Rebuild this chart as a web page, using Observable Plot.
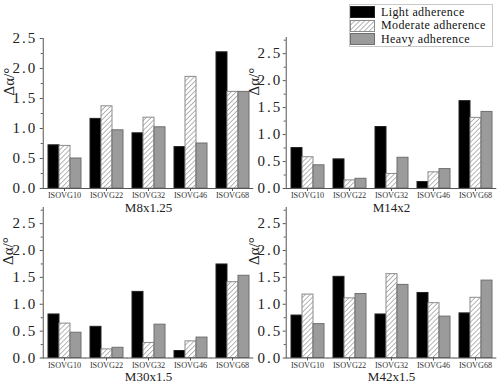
<!DOCTYPE html>
<html><head><meta charset="utf-8">
<script src="https://cdn.jsdelivr.net/npm/d3@7"></script>
<script src="https://cdn.jsdelivr.net/npm/@observablehq/plot@0.6"></script>
<style>
body{margin:0;background:#fff}
#chart{position:relative;width:500px;height:388px;overflow:hidden;font-family:"Liberation Serif","DejaVu Serif",serif;background:#fff}
.panel{position:absolute}
.legend{position:absolute;left:349px;top:4px;width:144px;height:43px;border:1px solid #c8c8c8;background:#fff;z-index:5;box-sizing:border-box;padding-top:0.5px}
.row{display:flex;align-items:center;height:13.5px;white-space:nowrap}
.row svg{margin-right:6px;flex:none}
.row span{font-family:"Liberation Serif","DejaVu Serif",serif;font-size:12px;color:#111;line-height:13px;white-space:nowrap;letter-spacing:0.4px}
#chart svg text{font-family:"Liberation Serif","DejaVu Serif",serif}
g[aria-label="y-axis tick label"] text{letter-spacing:2px}
</style>
</head><body>
<svg width="0" height="0" style="position:absolute">
<defs>
<pattern id="hatch" patternUnits="userSpaceOnUse" width="3.5" height="3.5" patternTransform="rotate(45)">
<rect width="3.5" height="3.5" fill="#fff"/>
<line x1="0" y1="0" x2="0" y2="3.5" stroke="#8c8c8c" stroke-width="1.3"/>
</pattern>
</defs>
</svg>
<div id="chart"></div>
<script>
const groups = ["ISOVG10", "ISOVG22", "ISOVG32", "ISOVG46", "ISOVG68"];
const series = ["Light adherence", "Moderate adherence", "Heavy adherence"];
const titles = ["M8x1.25", "M14x2", "M30x1.5", "M42x1.5"];
const yLabel = "Δα/°";

const lightM8 = [0.72, 1.16, 0.92, 0.69, 2.27];
const moderateM8 = [0.71, 1.37, 1.18, 1.86, 1.61];
const heavyM8 = [0.50, 0.97, 1.02, 0.75, 1.61];

const lightM14 = [0.75, 0.54, 1.14, 0.12, 1.62];
const moderateM14 = [0.58, 0.15, 0.27, 0.30, 1.31];
const heavyM14 = [0.43, 0.18, 0.57, 0.36, 1.42];

const lightM30 = [0.81, 0.58, 1.23, 0.13, 1.74];
const moderateM30 = [0.64, 0.16, 0.28, 0.31, 1.41];
const heavyM30 = [0.47, 0.19, 0.62, 0.38, 1.53];

const lightM42 = [0.79, 1.51, 0.81, 1.21, 0.83];
const moderateM42 = [1.18, 1.11, 1.56, 1.02, 1.12];
const heavyM42 = [0.63, 1.19, 1.36, 0.77, 1.44];

const fills = ["#000", "url(#hatch)", "#9b9b9b"];
const strokes = ["#222", "#8a8a8a", "#6e6e6e"];

const panels = [
  {title: titles[0], values: [lightM8, moderateM8, heavyM8], yMax: 2.5,
   left: 0, top: 0, width: 256, height: 220, ml: 41, mr: 2, mt: 38, mb: 32, tp: 3, lx: 29},
  {title: titles[1], values: [lightM14, moderateM14, heavyM14], yMax: 2.8,
   left: 250, top: 0, width: 250, height: 220, ml: 34, mr: 2, mt: 37, mb: 32, tp: 1, lx: 27},
  {title: titles[2], values: [lightM30, moderateM30, heavyM30], yMax: 2.8,
   left: 0, top: 170, width: 256, height: 218, ml: 41, mr: 2, mt: 37, mb: 30.5, tp: 3, lx: 30},
  {title: titles[3], values: [lightM42, moderateM42, heavyM42], yMax: 2.8,
   left: 250, top: 170, width: 250, height: 218, ml: 34, mr: 2, mt: 37, mb: 30.5, tp: 1, lx: 27}
];

const root = document.getElementById("chart");

for (const p of panels) {
  const data = groups.flatMap((g, i) => series.map((s, j) => ({group: g, series: s, value: p.values[j][i]})));
  const step = (p.width - p.ml - p.mr) / groups.length;
  const pad = 0.1 * step;
  const major = d3.range(0, 2.51, 0.5);
  const minor = d3.range(0.25, p.yMax, 0.5);
  const chart = Plot.plot({
    width: p.width, height: p.height,
    marginLeft: p.ml, marginRight: p.mr, marginTop: p.mt, marginBottom: p.mb,
    style: {fontFamily: "'Liberation Serif', 'DejaVu Serif', serif", fontSize: "8px", background: "transparent", color: "#222", overflow: "visible"},
    fx: {domain: groups, paddingInner: 0.2, paddingOuter: 0.1, label: null},
    x: {domain: series, padding: 0, axis: null},
    y: {domain: [0, p.yMax]},
    marks: [
      ...series.map((s, j) => Plot.barY(data.filter(d => d.series === s), {
        fx: "group", x: "series", y: "value", fill: fills[j], stroke: strokes[j], strokeWidth: 1
      })),
      Plot.ruleY([0], {insetLeft: -pad, insetRight: -pad, stroke: "#555"}),
      Plot.frame({anchor: "left", facetAnchor: "left", dx: -pad, stroke: "#555"}),
      Plot.axisY({ticks: major, tickSize: 3, tickPadding: p.tp, dx: -pad, tickFormat: d3.format(".1f"), fontSize: 15, label: null, stroke: "#555"}),
      Plot.axisY({ticks: minor, tickSize: 2, dx: -pad, tickFormat: () => "", label: null, stroke: "#555"}),
      Plot.axisFx({anchor: "bottom", tickSize: 3, tickPadding: 1, label: null, fontSize: 8.2, stroke: "#555", fill: "#333"}),
      Plot.text([p.title], {fx: () => groups[2], frameAnchor: "bottom", dy: 23, fontSize: 13, fill: "#222"}),
      Plot.text([yLabel], {fx: () => groups[0], frameAnchor: "bottom-left", rotate: -90, dx: -(p.lx + pad), dy: -93, fontSize: 15, fill: "#222"})
    ]
  });
  const holder = document.createElement("div");
  holder.className = "panel";
  holder.style.left = p.left + "px";
  holder.style.top = p.top + "px";
  holder.appendChild(chart);
  root.appendChild(holder);
}

// legend
const legend = document.createElement("div");
legend.className = "legend";
series.forEach((s, j) => {
  const row = document.createElement("div");
  row.className = "row";
  row.innerHTML = `<svg width="25" height="12"><rect x="0.5" y="0.5" width="24" height="11" fill="${fills[j]}" stroke="${strokes[j]}"/></svg><span>${s}</span>`;
  legend.appendChild(row);
});
root.appendChild(legend);
</script>
</body></html>
